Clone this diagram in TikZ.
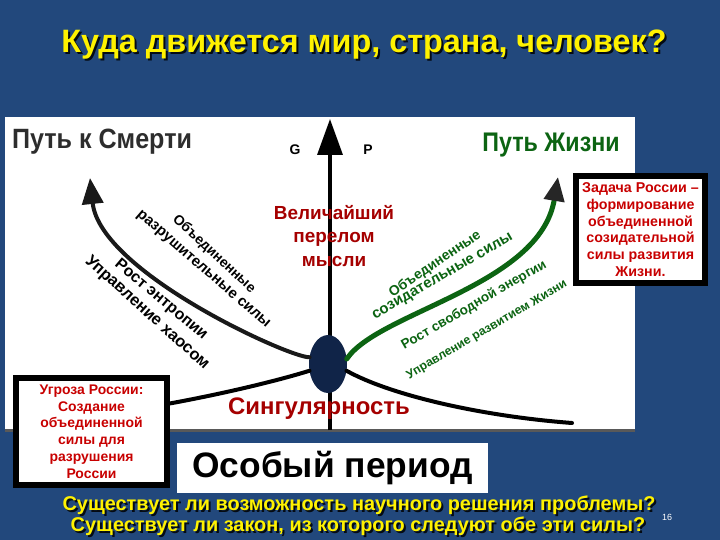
\documentclass[tikz,border=0pt]{standalone}
\usepackage{fontspec}
\setmainfont{Liberation Sans}
\usepackage{tikz}
\usetikzlibrary{arrows.meta,shapes.geometric}
\definecolor{slideblue}{RGB}{34,72,124}
\definecolor{coreblue}{RGB}{16,36,72}
\definecolor{darkred}{RGB}{165,0,0}
\definecolor{boxred}{RGB}{200,0,0}
\definecolor{lifegreen}{RGB}{12,100,18}
\definecolor{deathgray}{RGB}{45,45,45}
\newcommand{\fsz}[2]{\fontsize{#1}{#2}\selectfont}

\begin{document}
\begin{tikzpicture}[x=1bp,y=-1bp]
      \tikzstyle{every node} = [inner sep=0pt, outer sep=0pt]
      \tikzstyle{slidetitle} = [text=yellow, font=\bfseries\fsz{32.5}{38}]
      \tikzstyle{shadowtext} = [text=black!85!slideblue]
      \tikzstyle{question} = [text=yellow, font=\bfseries\fsz{20}{22}]
      \tikzstyle{pathname} = [font=\bfseries\fsz{28}{30}, xscale=0.9]
      \tikzstyle{darktext} = [text=black, font=\bfseries\fsz{14}{16}]
      \tikzstyle{greentext} = [text=lifegreen, font=\bfseries\fsz{14}{16}]
      \tikzstyle{bigred} = [text=darkred, font=\bfseries\fsz{19}{23.5}, align=center]
      \tikzstyle{russiabox} = [draw=black, line width=6bp, fill=white, text=boxred,
                               font=\bfseries\fsz{14}{16.8}, align=center]
      \tikzstyle{forcearrow} = [line width=4bp, line cap=round]

      \fill[slideblue] (0,0) rectangle (720,540);
      \useasboundingbox (0,0) rectangle (720,540);

      \node[slidetitle, shadowtext] (titleshadow) at (366,47) {Куда движется мир, страна, человек?};
      \node[slidetitle] (title) at (364,45) {Куда движется мир, страна, человек?};

      \fill[white] (5,117) rectangle (635,430);
      \draw[line width=3bp, black!65] (5,430) -- (635,430);

      \node[pathname, text=deathgray] (death) at (102,142) {Путь к Смерти};
      \node[pathname, text=lifegreen, font=\bfseries\fsz{27}{30}, xscale=0.96] (life) at (551,145) {Путь Жизни};
      \node[darktext] (g) at (295,150) {G};
      \node[darktext] (p) at (368,150) {P};

      \coordinate (axisbot) at (330,430);
      \coordinate (axistop) at (330,119);
      \coordinate (deathtip) at (90,178);
      \coordinate (lifetip) at (558,177);
      \coordinate (chaosstart) at (150,407);
      \coordinate (lowend) at (572,423);

      \draw[line width=3.5bp, -{Triangle[length=36bp,width=25bp]}] (axisbot) -- (axistop);

      \node[ellipse, fill=coreblue, minimum width=38bp, minimum height=58bp] (core) at (328,364) {};

      \draw[forcearrow, black!90, -{Triangle[length=26bp,width=21bp]}]
        (core.160) .. controls (290,358) and (100,272) .. (deathtip);
      \draw[forcearrow, line width=5bp, lifegreen, -{Triangle[length=24bp,width=20bp,color=black!85]}]
        (core.15) .. controls (378,312) and (540,286) .. (lifetip);
      \draw[forcearrow] (chaosstart) .. controls (220,395) and (280,380) .. (core.200);
      \draw[forcearrow] (core.-20) .. controls (390,395) and (480,416) .. (lowend);

      \node[darktext, rotate=-43] (destr1) at (214,254) {Объединенные};
      \node[darktext, font=\bfseries\fsz{15}{17}, rotate=-41] (destr2) at (203,270) {разрушительные силы};
      \node[darktext, font=\bfseries\fsz{16}{18}, rotate=-40] (entropy) at (161,300) {Рост энтропии};
      \node[darktext, font=\bfseries\fsz{16.5}{18}, rotate=-42] (chaos) at (147,313) {Управление хаосом};

      \node[greentext, rotate=34] (constr1) at (435,264) {Объединенные};
      \node[greentext, font=\bfseries\fsz{15}{17}, rotate=30] (constr2) at (443,277) {созидательные силы};
      \node[greentext, font=\bfseries\fsz{13.5}{15}, rotate=30] (energy) at (474,305) {Рост свободной энергии};
      \node[greentext, font=\bfseries\fsz{12.3}{13}, rotate=30.5] (growth) at (487,330) {Управление развитием Жизни};

      \node[bigred] (turn) at (334,236) {Величайший\\перелом\\мысли};
      \node[bigred, font=\bfseries\fsz{24}{26}] (sing) at (319,409) {Сингулярность};

      \node[russiabox, font=\bfseries\fsz{14.3}{16.8}, minimum width=129bp, minimum height=107bp] (task) at (640.5,229.5)
        {Задача России –\\формирование\\объединенной\\созидательной\\силы развития\\Жизни.};
      \node[russiabox, minimum width=151bp, minimum height=107bp] (threat) at (91.5,431.5)
        {Угроза России:\\Создание\\объединенной\\силы для\\разрушения\\России};

      \node[fill=white, minimum width=311bp, minimum height=50bp, text=black,
            font=\bfseries\fsz{35.5}{38}] (period) at (332.5,468) {Особый период};

      \node[question, shadowtext] (q1shadow) at (361,507) {Существует ли возможность научного решения проблемы?};
      \node[question] (q1) at (359,505) {Существует ли возможность научного решения проблемы?};
      \node[question, shadowtext] (q2shadow) at (360,528) {Существует ли закон, из которого следуют обе эти силы?};
      \node[question] (q2) at (358,526) {Существует ли закон, из которого следуют обе эти силы?};
      \node[text=white, font=\fsz{9}{10}] (page) at (667,517) {16};
\end{tikzpicture}
\end{document}
